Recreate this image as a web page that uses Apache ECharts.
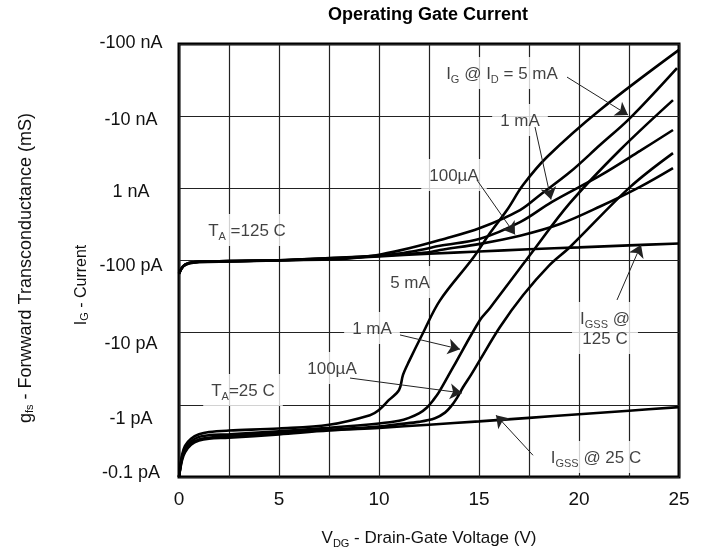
<!DOCTYPE html>
<html><head><meta charset="utf-8">
<script src="https://cdn.jsdelivr.net/npm/echarts@6/dist/echarts.min.js"></script>
<style>html,body{margin:0;padding:0;background:#fff}#c{width:704px;height:553px}</style>
</head><body><div id="c"></div>
<script>
const FONT = "'Liberation Sans', Arial, sans-serif";
// x: V_DG in volts, y: |I_G| in pA (log scale)
const yTickLabels = ['-0.1 pA','-1 pA','-10 pA','-100 pA','1 nA','-10 nA','-100 nA'];

const igss25 = [[0,0.1],[0.15,0.17],[0.3,0.22],[0.6,0.28],[1,0.32],[1.5,0.34],[2.5,0.35],[5,0.39],[7.5,0.44],[10,0.48],[12.5,0.53],[15,0.59],[17.5,0.66],[20,0.74],[22.5,0.83],[25,0.93]];
const ig25_100uA = [[0,0.1],[0.15,0.18],[0.3,0.23],[0.6,0.29],[1,0.33],[1.5,0.35],[2.5,0.37],[5,0.41],[7.5,0.45],[10,0.5],[11,0.54],[12,0.58],[12.8,0.65],[13.3,0.78],[13.6,0.95],[13.9,1.25],[14.2,1.75],[14.6,2.6],[15.05,4.2],[16.05,12],[17.2,33],[18.5,85],[19.55,154],[22.55,1040],[24.7,3080]];
const ig25_1mA = [[0,0.1],[0.15,0.19],[0.3,0.25],[0.6,0.31],[1,0.36],[1.5,0.38],[2.5,0.39],[5,0.43],[7.5,0.48],[10,0.55],[11,0.6],[11.5,0.66],[12,0.76],[12.4,0.92],[12.7,1.15],[13,1.5],[13.7,3.3],[15.05,15],[15.55,22],[17.55,119],[19.55,627],[22.05,3400],[24.7,16700]];
const ig25_5mA = [[0,0.1],[0.15,0.2],[0.3,0.27],[0.6,0.34],[1,0.39],[1.5,0.42],[2.5,0.44],[5,0.47],[7.5,0.53],[9.55,0.72],[10,0.85],[10.5,1.17],[11,1.6],[11.2,2.6],[11.5,4],[12.2,9.9],[13.05,28],[14.7,108],[15.55,240],[16.4,500],[17.2,1110],[18.4,2720],[21.05,12200],[25,83000]];
const igss125 = [[0,65],[0.2,82],[0.5,91],[1,95],[2.5,97],[5,100],[7.5,106],[10,114],[12.5,124],[15,133],[17.5,143],[20,152],[22.5,162],[25,172]];
const ig125_100uA = [[0,66],[0.2,83],[0.5,92],[1,96],[2.5,98],[5,101],[7.5,107],[10,116],[12.5,130],[13.05,140],[15.05,170],[17.05,220],[19.05,320],[21.05,560],[23.05,1050],[24.7,1910]];
const ig125_1mA = [[0,66],[0.2,83],[0.5,92],[1,96],[2.5,98],[5,101],[7.5,108],[10,117],[11,125],[12.05,140],[13.05,160],[15.05,200],[17.05,340],[18.65,650],[21.05,1500],[23.05,3300],[24.7,6430]];
const ig125_5mA = [[0,66],[0.2,83],[0.5,92],[1,96],[2.5,98],[5,101],[8,104],[9,110],[10,120],[11,137],[12,160],[13.05,192],[15.05,282],[17.05,500],[18.05,810],[19.55,1680],[21.05,3980],[22.55,9400],[24.9,46400]];

const curves = [igss25, ig25_100uA, ig25_1mA, ig25_5mA, igss125, ig125_100uA, ig125_1mA, ig125_5mA];

// annotation texts and their anchor points (V, pA)
const annoText = [
  '{m|I}{s|G}{m| @ I}{s|D}{m| = 5 mA}',
  '{m|1 mA}',
  '{m|100µA}',
  '{m|T}{s|A}{m| =125 C}',
  '{m|5 mA}',
  '{m|1 mA}',
  '{m|100µA}',
  '{m|T}{s|A}{m|=25 C}',
  '{m|I}{s|GSS}{m| @}\n{m|125 C}',
  '{m|I}{s|GSS}{m| @ 25 C}'
];
const annoPos = [[16.15,39600],[17.05,8850],[13.75,1530],[3.4,264],[11.55,50.4],[9.65,11.6],[7.65,3.24],[3.2,1.6],[21.3,11.6],[20.85,0.189]];
const arrowFrom = [[19.4,34800],[17.8,7080],[14.9,1300],[11.05,9.3],[8.55,2.35],[21.9,28.4],[17.7,0.20]];
const arrowTo   = [[22.45,10400],[18.6,700],[16.8,230],[14.05,5.9],[14.15,1.46],[23.1,165],[15.85,0.72]];

const rich = {
  m: {fontSize: 17, fontFamily: FONT, color: '#111', lineHeight: 20, verticalAlign: 'bottom'},
  s: {fontSize: 11, fontFamily: FONT, color: '#111', lineHeight: 14, verticalAlign: 'bottom', padding:[0,0,-2,0]}
};

// the printed tick labels sit slightly off their grid lines in the original
const yLabelShift = [-4, 14, 11, 6, 4, 4, -1];
const yRich = {};
yLabelShift.forEach((s, i) => {
  yRich['t' + i] = {fontSize: 18, fontFamily: FONT, color: '#111', align: 'center',
    padding: s > 0 ? [2 * s, 0, 0, 0] : [0, 0, -2 * s, 0]};
});

const chart = echarts.init(document.getElementById('c'), null, {renderer: 'canvas'});
const series = curves.map(d => ({
  type: 'line', data: d, showSymbol: false, smooth: 0.35,
  lineStyle: {color: '#000', width: 2.6}, z: 3, silent: true, animation: false
}));
series.push({
  type: 'scatter', z: 2, silent: true, animation: false,
  symbol: 'circle', symbolSize: 1, itemStyle: {color: 'rgba(0,0,0,0)'},
  data: annoPos.map((p, i) => ({value: p, label: {formatter: annoText[i]}})),
  label: {show: true, position: 'inside', backgroundColor: '#fff', padding: [6, 8], rich: rich, align: 'center'},
});
series.push({
  type: 'line', data: [], z: 4, silent: true, animation: false,
  markLine: {
    silent: true, animation: false, symbol: ['none', 'arrow'], symbolSize: 12,
    lineStyle: {color: '#222', width: 1, type: 'solid'}, label: {show: false},
    data: arrowFrom.map((f, i) => [{coord: f}, {coord: arrowTo[i]}])
  }
});

chart.setOption({
  animation: false,
  backgroundColor: '#fff',
  textStyle: {fontFamily: FONT},
  grid: {left: 179, right: 25, top: 44, bottom: 76, show: true, borderColor: '#000', borderWidth: 3, containLabel: false, outerBoundsMode: 'none'},
  xAxis: {
    type: 'value', min: 0, max: 25, interval: 2.5,
    axisLine: {show: false}, axisTick: {show: false},
    splitLine: {show: true, lineStyle: {color: '#222', width: 1.2}},
    axisLabel: {fontSize: 19, color: '#111', margin: 13, formatter: v => (v % 5 === 0 ? String(v) : '')},
    name: '{m|V}{s|DG}{m| - Drain-Gate Voltage (V)}', nameLocation: 'middle', nameGap: 50,
    nameTextStyle: {rich: rich}
  },
  yAxis: {
    type: 'log', logBase: 10, min: 0.1, max: 100000,
    axisLine: {show: false}, axisTick: {show: false}, minorTick: {show: false},
    splitLine: {show: true, lineStyle: {color: '#222', width: 1.2}},
    axisLabel: {fontSize: 18, color: '#111', margin: 48, align: 'center', rich: yRich,
      formatter: v => { const i = Math.round(Math.log10(v)) + 1; return '{t' + i + '|' + yTickLabels[i] + '}'; }}
  },
  graphic: [
    {type: 'text', x: 428, y: 15, style: {text: 'Operating Gate Current', fontSize: 18, fontWeight: 'bold', fontFamily: FONT, fill: '#000', align: 'center', verticalAlign: 'middle'}},
    {type: 'text', x: 80, y: 285, rotation: Math.PI / 2, style: {text: '{a|I}{b|G}{a| - Current}', align: 'center', verticalAlign: 'middle',
      rich: {a: {fontSize: 16, fontFamily: FONT, fill: '#111', lineHeight: 20, verticalAlign: 'bottom'}, b: {fontSize: 11, fontFamily: FONT, fill: '#111', lineHeight: 14, verticalAlign: 'bottom'}}}},
    {type: 'text', x: 24, y: 268, rotation: Math.PI / 2, style: {text: '{a|g}{b|fs}{a| - Forwward Transconductance (mS)}', align: 'center', verticalAlign: 'middle',
      rich: {a: {fontSize: 18, fontFamily: FONT, fill: '#111', lineHeight: 22, verticalAlign: 'bottom'}, b: {fontSize: 11, fontFamily: FONT, fill: '#111', lineHeight: 14, verticalAlign: 'bottom'}}}}
  ],
  series: series
});
</script></body></html>
